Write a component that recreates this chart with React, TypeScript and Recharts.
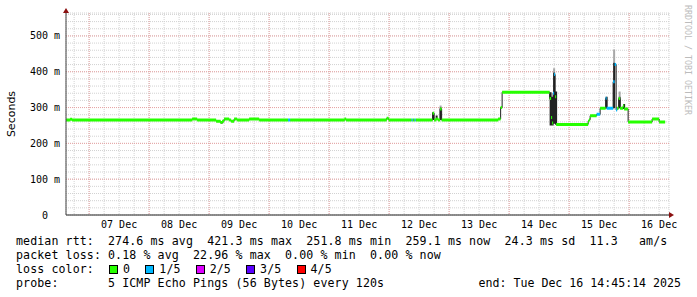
import React from 'react';
import { ComposedChart, Line, Area, XAxis, YAxis, CartesianGrid, ReferenceDot } from 'recharts';

document.body.style.margin = '0';

// x values are hours counted from 06 Dec 00:00
const X_START = 14.75;
const X_END = 255.95;
const Y_MAX = 564;

const dayLabels = ['07 Dec', '08 Dec', '09 Dec', '10 Dec', '11 Dec', '12 Dec', '13 Dec', '14 Dec', '15 Dec', '16 Dec'];
const dayNoons = [36, 60, 84, 108, 132, 156, 180, 204, 228, 252];
const dayMidnights = [24, 48, 72, 96, 120, 144, 168, 192, 216, 240];
const majorRtt = [100, 200, 300, 400, 500];

// median rtt (ms), stepped, with number of lost pings out of 5
const stepHours = [
  14.75, 16.4, 17.2, 65.2, 67.2, 74.8, 76.6, 77.2, 78.0, 80.0, 80.8, 82.0, 83.2, 88.0, 92.0,
  103.6, 104.4, 126.2, 126.8, 143.0, 143.8, 153.0, 153.4, 154.2, 154.6,
  161.4, 162.0, 162.8, 163.6, 164.4, 165.0, 187.6, 188.6, 189.2,
  208.2, 208.8, 209.2, 209.6, 210.0, 210.4, 210.8,
  223.6, 224.0, 224.4, 227.0, 228.4, 230.6, 231.0, 233.6, 234.2, 234.8, 235.2,
  235.8, 236.4, 237.6, 238.0, 239.6, 249.2, 252.0, 254.4,
];
const stepMedian = [
  265, 267, 265, 268, 265, 262, 258, 262, 268, 265, 262, 268, 265, 268, 265,
  265, 265, 268, 265, 270, 265, 265, 265, 265, 265,
  284, 265, 268, 265, 296, 265, 268, 300, 343,
  325, 272, 257, 340, 392, 330, 253,
  262, 266, 277, 281, 298, 326, 298, 372, 420, 293, 298,
  325, 298, 305, 296, 260, 268, 260, 260,
];
const stepLoss = [
  0, 0, 0, 0, 0, 0, 0, 0, 0, 0, 0, 0, 0, 0, 0,
  1, 0, 0, 0, 0, 0, 1, 0, 1, 0,
  0, 0, 0, 0, 0, 0, 0, 0, 0,
  0, 0, 0, 1, 1, 0, 0,
  0, 0, 0, 1, 0, 1, 1, 1, 1, 1, 0,
  0, 0, 0, 0, 0, 0, 0, 0,
];

// smoke around the spikes: low / high of the dark part, top of the light part
const smokeHours = [76.6, 161.2, 162.6, 164.2, 208.2, 209.0, 209.6, 210.4, 230.6, 233.6, 235.8, 237.6];
const smokeLow = [255, 265, 265, 265, 250, 250, 255, 252, 298, 298, 298, 296];
const smokeHigh = [260, 287, 278, 300, 343, 330, 398, 345, 330, 425, 330, 310];
const smokeTop = [260, 287, 278, 306, 343, 330, 410, 345, 330, 462, 345, 310];

const lossLabels = ['0', '1/5', '2/5', '3/5', '4/5'];
const lossColors = ['#26ff00', '#00b8ff', '#dd00ff', '#5a00ff', '#ff0000'];

const rttLine = 'median rtt:  274.6 ms avg  421.3 ms max  251.8 ms min  259.1 ms now  24.3 ms sd  11.3   am/s';
const lossLine = 'packet loss: 0.18 % avg  22.96 % max  0.00 % min  0.00 % now';
const probeLine = 'probe:       5 ICMP Echo Pings (56 Bytes) every 120s';
const endLine = 'end: Tue Dec 16 14:45:14 2025';
const watermark = 'RRDTOOL / TOBI OETIKER';

const SMOKE_W = 0.8;
const MONO = '"DejaVu Sans Mono", monospace';

const minorX: number[] = [];
for (let h = 18; h <= 252; h += 6) minorX.push(h);
const minorY: number[] = [];
for (let v = 0; v <= 560; v += 20) minorY.push(v);

const medianData = stepHours.map((h, i) => ({ h, v: stepMedian[i] }));

const segments = (k: number) => {
  const out: { h: number; v: number | null }[] = [];
  for (let i = 0; i < stepHours.length - 1; i++) {
    if (stepLoss[i] !== k) continue;
    out.push({ h: stepHours[i], v: stepMedian[i] });
    out.push({ h: stepHours[i + 1], v: stepMedian[i] });
    out.push({ h: stepHours[i + 1], v: null });
  }
  return out;
};

const smokeData = smokeHours.flatMap((h, i) => [
  { h, dark: [smokeLow[i], smokeHigh[i]], light: [smokeHigh[i], smokeTop[i]] },
  { h: h + SMOKE_W, dark: [smokeLow[i], smokeHigh[i]], light: [smokeHigh[i], smokeTop[i]] },
  { h: h + SMOKE_W, dark: null, light: null },
]);

const YTick = ({ x, y, payload }: any) => {
  const v = payload.value;
  if (v % 100 !== 0) return <g />;
  return (
    <text x={v === 0 ? x - 12 : x} y={y + 3.5} textAnchor="end" fontFamily={MONO} fontSize={10} fill="#000">
      {v === 0 ? '0' : `${v} m`}
    </text>
  );
};

const XTick = ({ x, y, payload }: any) => {
  const idx = dayNoons.indexOf(payload.value);
  if (idx < 0) return <g />;
  return (
    <text x={x} y={y + 13} textAnchor="middle" fontFamily={MONO} fontSize={10} fill="#000">
      {dayLabels[idx]}
    </text>
  );
};

const UpArrow = ({ cx, cy }: any) => (
  <polygon points={`${cx - 3},${cy} ${cx + 3},${cy} ${cx},${cy - 5}`} fill="#8b1010" />
);
const RightArrow = ({ cx, cy }: any) => (
  <polygon points={`${cx},${cy - 3} ${cx},${cy + 3} ${cx + 5},${cy}`} fill="#8b1010" />
);

const textStyle: React.CSSProperties = {
  position: 'absolute',
  left: 16,
  fontFamily: MONO,
  fontSize: 11.6,
  letterSpacing: 0.1,
  lineHeight: '14px',
  whiteSpace: 'pre',
  color: '#000',
};

export default function App() {
  return (
    <div style={{ position: 'relative', width: 697, height: 297, background: '#fff' }}>
      <ComposedChart width={697} height={297} margin={{ top: 13, right: 28, bottom: 62, left: 0 }}>
        <CartesianGrid stroke="#d2d2d2" strokeDasharray="1 1" />
        <CartesianGrid
          stroke="#e8a4a4"
          strokeDasharray="1 1"
          horizontalValues={majorRtt}
          verticalValues={dayMidnights}
        />
        <XAxis
          type="number"
          dataKey="h"
          domain={[X_START, X_END]}
          allowDataOverflow
          ticks={minorX}
          interval={0}
          tick={<XTick />}
          tickLine={false}
          tickSize={0}
          tickMargin={0}
          height={20}
          axisLine={{ stroke: '#222' }}
        />
        <YAxis
          type="number"
          domain={[0, Y_MAX]}
          allowDataOverflow
          ticks={minorY}
          interval={0}
          tick={<YTick />}
          tickLine={false}
          tickSize={0}
          tickMargin={6}
          width={66}
          axisLine={{ stroke: '#444' }}
        />
        <Area
          data={smokeData}
          dataKey="light"
          type="linear"
          stroke="none"
          fill="#a8a8a8"
          fillOpacity={1}
          isAnimationActive={false}
        />
        <Area
          data={smokeData}
          dataKey="dark"
          type="linear"
          stroke="none"
          fill="#222"
          fillOpacity={1}
          isAnimationActive={false}
        />
        <Line
          data={medianData}
          dataKey="v"
          type="stepAfter"
          stroke="#222"
          strokeWidth={1}
          dot={false}
          isAnimationActive={false}
        />
        {[0, 1].map((k) => (
          <Line
            key={k}
            data={segments(k)}
            dataKey="v"
            type="linear"
            stroke={lossColors[k]}
            strokeWidth={3}
            dot={false}
            connectNulls={false}
            isAnimationActive={false}
          />
        ))}
        <ReferenceDot x={X_START} y={Y_MAX} ifOverflow="visible" shape={<UpArrow />} />
        <ReferenceDot x={X_END} y={0} ifOverflow="visible" shape={<RightArrow />} />
      </ComposedChart>

      <div
        style={{
          position: 'absolute',
          left: 10.5,
          top: 114,
          transform: 'translate(-50%, -50%) rotate(-90deg)',
          fontFamily: '"DejaVu Sans", sans-serif',
          fontSize: 11,
          whiteSpace: 'pre',
          color: '#000',
        }}
      >
        Seconds
      </div>
      <div
        style={{
          position: 'absolute',
          left: 688,
          top: 60,
          transform: 'translate(-50%, -50%) rotate(90deg)',
          fontFamily: MONO,
          fontSize: 8.3,
          whiteSpace: 'pre',
          color: '#bcbcbc',
        }}
      >
        {watermark}
      </div>

      <div style={{ ...textStyle, top: 234 }}>{rttLine}</div>
      <div style={{ ...textStyle, top: 248 }}>{lossLine}</div>
      <div style={{ ...textStyle, top: 262 }}>
        {'loss color:  '}
        {lossLabels.map((l, i) => (
          <React.Fragment key={l}>
            <span
              style={{
                display: 'inline-block',
                width: 7,
                height: 7,
                border: '1px solid #000',
                background: lossColors[i],
                marginLeft: 1,
                marginRight: 5,
                verticalAlign: -1,
              }}
            />
            {l + (i < lossLabels.length - 1 ? '  ' : '')}
          </React.Fragment>
        ))}
      </div>
      <div style={{ ...textStyle, top: 276 }}>{probeLine}</div>
      <div style={{ ...textStyle, top: 276, left: 'auto', right: 16, letterSpacing: 0 }}>{endLine}</div>
    </div>
  );
}
